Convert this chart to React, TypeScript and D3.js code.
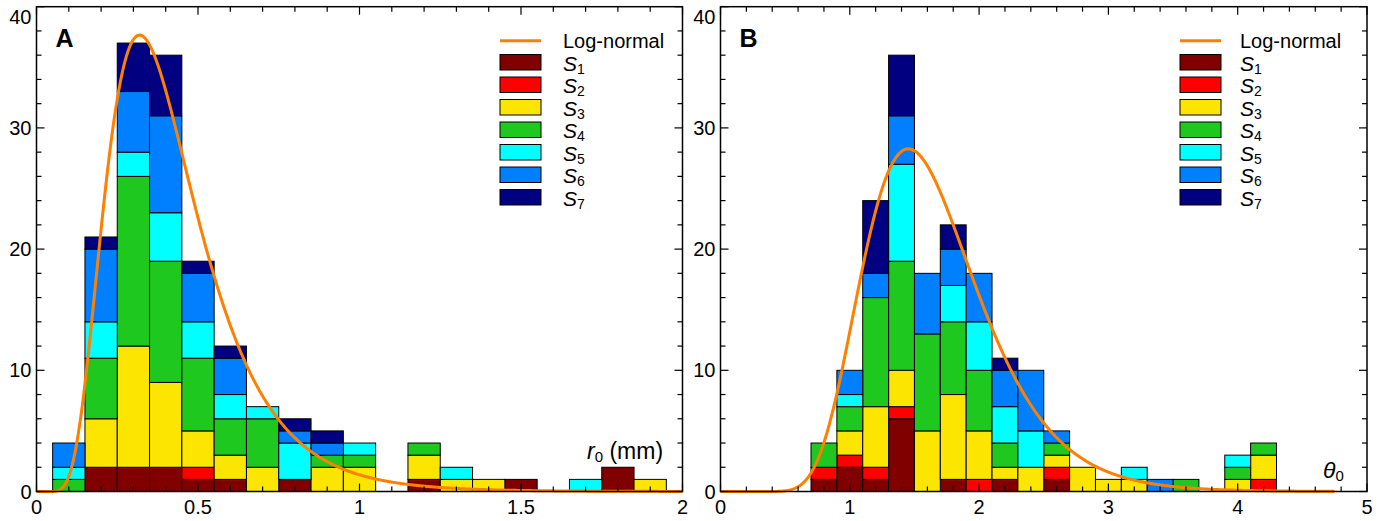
import React from "react";
import * as d3 from "d3";

// bin centres
const binsA = [0.1, 0.2, 0.3, 0.4, 0.5, 0.6, 0.7, 0.8, 0.9, 1.0, 1.1, 1.2, 1.3, 1.4, 1.5, 1.6, 1.7, 1.8, 1.9];
const binsB = [0.8, 1.0, 1.2, 1.4, 1.6, 1.8, 2.0, 2.2, 2.4, 2.6, 2.8, 3.0, 3.2, 3.4, 3.6, 3.8, 4.0, 4.2];

// panel A counts per sample (r0)
const aS1 = [0, 2, 2, 2, 1, 1, 0, 1, 0, 0, 0, 1, 0, 0, 1, 0, 0, 2, 0];
const aS2 = [0, 0, 0, 0, 1, 0, 0, 0, 0, 0, 0, 0, 0, 0, 0, 0, 0, 0, 0];
const aS3 = [0, 4, 10, 7, 3, 2, 2, 0, 2, 2, 0, 2, 1, 1, 0, 0, 0, 0, 1];
const aS4 = [1, 5, 14, 10, 6, 3, 4, 0, 1, 1, 0, 1, 0, 0, 0, 0, 0, 0, 0];
const aS5 = [1, 3, 2, 4, 3, 2, 1, 3, 0, 1, 0, 0, 1, 0, 0, 0, 1, 0, 0];
const aS6 = [2, 6, 5, 8, 4, 3, 0, 1, 1, 0, 0, 0, 0, 0, 0, 0, 0, 0, 0];
const aS7 = [0, 1, 4, 5, 1, 1, 0, 1, 1, 0, 0, 0, 0, 0, 0, 0, 0, 0, 0];

// panel B counts per sample (theta0)
const bS1 = [1, 2, 1, 6, 0, 1, 0, 1, 0, 1, 0, 0, 0, 0, 0, 0, 0, 0];
const bS2 = [1, 1, 1, 1, 0, 0, 1, 0, 0, 1, 0, 0, 0, 0, 0, 0, 0, 1];
const bS3 = [0, 2, 5, 3, 5, 7, 4, 1, 2, 1, 2, 1, 1, 0, 0, 0, 1, 2];
const bS4 = [2, 2, 9, 9, 8, 6, 5, 2, 0, 1, 0, 0, 0, 0, 1, 0, 1, 1];
const bS5 = [0, 1, 0, 8, 0, 3, 4, 3, 3, 0, 0, 0, 1, 0, 0, 0, 1, 0];
const bS6 = [0, 2, 2, 4, 5, 3, 4, 3, 5, 1, 0, 0, 0, 1, 0, 0, 0, 0];
const bS7 = [0, 0, 6, 5, 0, 2, 0, 1, 0, 0, 0, 0, 0, 0, 0, 0, 0, 0];

// fitted log-normal (mu, sigma, area)
const fitA = { mu: -0.945, sigma: 0.444, area: 14.76, end: 2 };
const fitB = { mu: 0.465, sigma: 0.3025, area: 32.6, end: 4.75 };

const seriesNames = ["S1", "S2", "S3", "S4", "S5", "S6", "S7"];
const colors = ["#800000", "#ff0000", "#fce500", "#1ec81e", "#00ffff", "#0080ff", "#000080"];
const orange = "#ff8000";

const yTicks = [0, 10, 20, 30, 40];

const lognormal = (x, p) =>
  x <= 0 ? 0 : (p.area / (x * p.sigma * Math.sqrt(2 * Math.PI))) *
    Math.exp(-Math.pow(Math.log(x) - p.mu, 2) / (2 * p.sigma * p.sigma));

const font = "'Liberation Sans', Arial, sans-serif";

const Panel = ({ cfg }) => {
  const x = d3.scaleLinear().domain(cfg.domain).range([cfg.x0, cfg.x1]);
  const y = d3.scaleLinear().domain([0, 40]).range([491.5, 6.7]);

  const rows = cfg.bins.map((b, i) => {
    const r = { bin: b };
    seriesNames.forEach((s, k) => (r[s] = cfg.series[k][i]));
    return r;
  });
  const stacked = d3.stack().keys(seriesNames)(rows);

  const pts = d3.range(0, cfg.fit.end + 1e-9, cfg.fit.end / 800).map(v => [v, lognormal(v, cfg.fit)]);
  const line = d3.line().x(d => x(d[0])).y(d => y(d[1]))(pts);

  const minorX = d3.range(0, cfg.domain[1] + 1e-9, cfg.minorX);
  const minorY = d3.range(0, 40.001, 2);
  const [top, bottom] = y.range().slice().reverse();

  return (
    <g fontFamily={font}>
      {stacked.map((layer, k) => (
        <g key={k}>
          {layer.map((d, i) => d[1] - d[0] > 0 && (
            <rect key={i}
              x={x(d.data.bin - cfg.binW / 2)} width={x(d.data.bin + cfg.binW / 2) - x(d.data.bin - cfg.binW / 2)}
              y={y(d[1])} height={y(d[0]) - y(d[1])}
              fill={colors[k]} stroke="#000" strokeWidth={1} />
          ))}
        </g>
      ))}
      <path d={line} fill="none" stroke={orange} strokeWidth={3} />
      {/* frame */}
      <rect x={cfg.x0} y={top} width={cfg.x1 - cfg.x0} height={bottom - top} fill="none" stroke="#000" strokeWidth={1.5} />
      {minorX.map((v, i) => {
        const major = cfg.majorX.some(m => Math.abs(m - v) < 1e-6);
        const l = major ? 8 : 5;
        return (
          <g key={i} stroke="#000" strokeWidth={1.2}>
            <line x1={x(v)} x2={x(v)} y1={bottom} y2={bottom - l} />
            <line x1={x(v)} x2={x(v)} y1={top} y2={top + l} />
          </g>
        );
      })}
      {minorY.map((v, i) => {
        const l = v % 10 === 0 ? 8 : 5;
        return (
          <g key={i} stroke="#000" strokeWidth={1.2}>
            <line x1={cfg.x0} x2={cfg.x0 + l} y1={y(v)} y2={y(v)} />
            <line x1={cfg.x1} x2={cfg.x1 - l} y1={y(v)} y2={y(v)} />
          </g>
        );
      })}
      {cfg.majorX.map((v, i) => (
        <text key={i} x={x(v)} y={514} textAnchor="middle" fontSize={20}>{String(v)}</text>
      ))}
      {yTicks.map((v, i) => (
        <text key={i} x={cfg.x0 - 5} y={Math.max(y(v) + 7, 24)} textAnchor="end" fontSize={20}>{v}</text>
      ))}
      <text x={cfg.x0 + 19} y={46.5} fontSize={25} fontWeight="bold">{cfg.letter}</text>
      {/* legend */}
      <line x1={cfg.legX} x2={cfg.legX + 41} y1={40.7} y2={40.7} stroke={orange} strokeWidth={3} />
      <text x={cfg.legTextX} y={47.5} fontSize={20}>Log-normal</text>
      {seriesNames.map((s, k) => (
        <g key={s}>
          <rect x={cfg.legX} y={54.5 + k * 22.5} width={41} height={15.5} fill={colors[k]} stroke="#000" strokeWidth={1} />
          <text x={cfg.legTextX} y={70.5 + k * 22.5} fontSize={21}>
            <tspan fontStyle="italic">S</tspan>
            <tspan fontSize={14} dy={3}>{k + 1}</tspan>
          </text>
        </g>
      ))}
      {cfg.axisLabel}
    </g>
  );
};

export default function App() {
  const cfgA = {
    x0: 36.5, x1: 682.5, domain: [0, 2], bins: binsA, binW: 0.1,
    series: [aS1, aS2, aS3, aS4, aS5, aS6, aS7], fit: fitA,
    majorX: [0, 0.5, 1, 1.5, 2], minorX: 0.1, letter: "A", legX: 500, legTextX: 563,
    axisLabel: (
      <text x={587} y={459} fontSize={23} fontFamily={font}>
        <tspan fontStyle="italic">r</tspan>
        <tspan fontSize={15} dy={3}>0</tspan>
        <tspan dy={-3}> (mm)</tspan>
      </text>
    ),
  };
  const cfgB = {
    x0: 720.5, x1: 1367, domain: [0, 5], bins: binsB, binW: 0.2,
    series: [bS1, bS2, bS3, bS4, bS5, bS6, bS7], fit: fitB,
    majorX: [0, 1, 2, 3, 4, 5], minorX: 0.2, letter: "B", legX: 1180, legTextX: 1240,
    axisLabel: (
      <text x={1323} y={478} fontSize={23} fontFamily={font}>
        <tspan fontStyle="italic">θ</tspan>
        <tspan fontSize={15} dy={3}>0</tspan>
      </text>
    ),
  };
  return (
    <svg width={1379} height={521} style={{ position: "absolute", left: 0, top: 0, background: "#fff" }}>
      <Panel cfg={cfgA} />
      <Panel cfg={cfgB} />
    </svg>
  );
}
